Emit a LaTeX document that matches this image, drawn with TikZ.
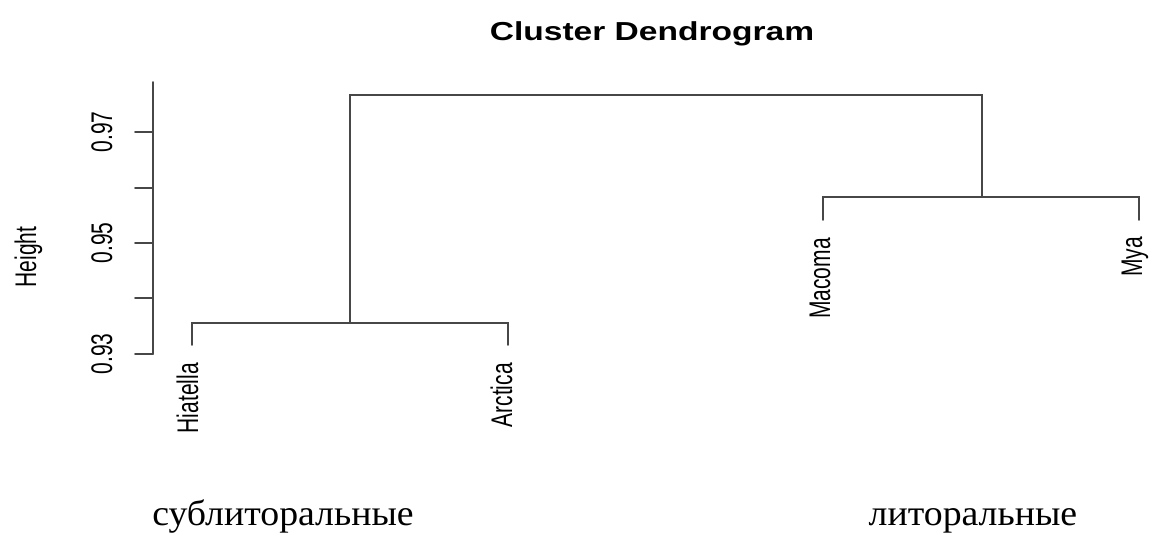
\documentclass[tikz,border=0pt]{standalone}
\usepackage{graphicx}
\usepackage{fontspec}
\setmainfont{Liberation Serif}
\setsansfont{Liberation Sans}
\newcommand\vst[1]{\scalebox{1}[1.42]{#1}}
\tikzset{
  dline/.style={line width=1.6pt, draw=black!72, line cap=round, line join=miter},
  axline/.style={line width=1.6pt, draw=black!72, line cap=round},
  rlab/.style={rotate=90, inner sep=0pt, font=\sffamily\fontsize{21}{21}\selectfont},
  ttl/.style={inner sep=0pt, anchor=base, font=\sffamily\bfseries\fontsize{26}{26}\selectfont},
  grp/.style={inner sep=0pt, anchor=base, font=\rmfamily\fontsize{36}{36}\selectfont}
}
\begin{document}
\begin{tikzpicture}[x=1pt,y=-1pt]
\useasboundingbox (0,0) rectangle (1153,536);
% axis
\coordinate (atop) at (153,82);
\coordinate (abot) at (153,354);
\draw[axline] (atop) -- (abot);
\foreach \yy/\nm in {132/a97,188/a96,243/a95,298/a94,354/a93}{
  \coordinate (\nm) at (153,\yy);
  \coordinate (\nm l) at (135,\yy);
  \draw[axline] (\nm) -- (\nm l);
}
\node[rlab, anchor=base] (t97) at (112,132) {\vst{0.97}};
\node[rlab, anchor=base] (t95) at (112,243) {\vst{0.95}};
\node[rlab, anchor=base] (t93) at (112,354) {\vst{0.93}};
\node[rlab, anchor=base] (ylab) at (36,257) {\vst{Height}};
% title
\node[ttl] (title) at (652,40) {\scalebox{1.29}[1]{Cluster Dendrogram}};
% leaves
\coordinate (hia) at (192,345);
\coordinate (arc) at (508,345);
\coordinate (mac) at (823,220);
\coordinate (mya) at (1139,220);
% merges
\coordinate (m1) at (350,323);
\coordinate (m2) at (982,197);
\coordinate (root) at (666,95);
\draw[dline] (hia) |- (m1) -| (arc);
\draw[dline] (mac) |- (m2) -| (mya);
\draw[dline] (m1) |- (root) -| (m2);
% leaf labels
\node[rlab, anchor=base east] (lhia) at (198,363) {\vst{Hiatella}};
\node[rlab, anchor=base east] (larc) at (512,363) {\vst{Arctica}};
\node[rlab, anchor=base east] (lmac) at (830,238) {\vst{Macoma}};
\node[rlab, anchor=base east] (lmya) at (1142,237) {\vst{Mya}};
% group labels
\node[grp] (sub) at (283,525) {\scalebox{1.05}[1]{сублиторальные}};
\node[grp] (lit) at (973,525) {\scalebox{1.05}[1]{литоральные}};
\end{tikzpicture}
\end{document}
